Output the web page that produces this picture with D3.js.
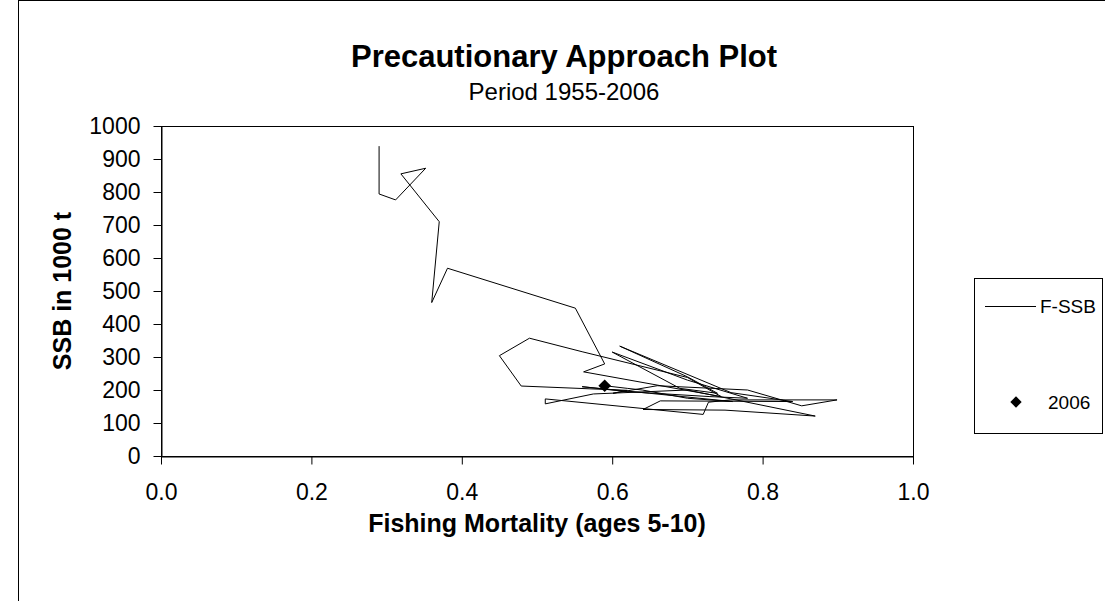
<!DOCTYPE html>
<html>
<head>
<meta charset="utf-8">
<script src="https://cdn.jsdelivr.net/npm/d3@7"></script>
<style>
  body { margin: 0; background: #fff; }
  svg { font-family: Arial, "Liberation Sans", sans-serif; }
</style>
</head>
<body>
<div id="chart"></div>
<script>
// data: fishing mortality (x) and SSB (y) by year
var years = d3.range(1955, 2007)
var fishingMortality = [
    0.290, 0.290, 0.312, 0.352, 0.319, 0.370, 0.360, 0.381, 0.551, 0.590,
    0.562, 0.745, 0.700, 0.560, 0.490, 0.450, 0.479, 0.620, 0.601, 0.660,
    0.780, 0.852, 0.899, 0.757, 0.728, 0.721, 0.511, 0.511, 0.575, 0.700,
    0.870, 0.750, 0.641, 0.664, 0.840, 0.758, 0.610, 0.700, 0.740, 0.690,
    0.600, 0.700, 0.780, 0.730, 0.620, 0.560, 0.650, 0.760, 0.700, 0.640,
    0.620, 0.590
]
var ssb = [
    939, 794, 776, 872, 855, 710, 465, 569, 448, 279,
    255, 180, 238, 316, 357, 304, 212, 199, 190, 213,
    200, 152, 170, 170, 163, 126, 173, 158, 188, 200,
    121, 139, 141, 167, 165, 192, 333, 240, 190, 205,
    315, 230, 175, 180, 195, 210, 190, 165, 175, 200,
    205, 213
]
var xTicks = [0, 0.2, 0.4, 0.6, 0.8, 1.0]
var yTicks = [0, 100, 200, 300, 400, 500, 600, 700, 800, 900, 1000]
var legendLabels = ["F-SSB", "2006"]

var points = years.map(function(d, i) {
    return { year: d, f: fishingMortality[i], ssb: ssb[i] }
})
var last = points[points.length - 1]

// plot area
var plot = { left: 161, top: 126, right: 913, bottom: 456 }
var font = "Arial, 'Liberation Sans', sans-serif"

var svg = d3.select("#chart").append("svg")
    .attr("width", 1105)
    .attr("height", 601)

// chart area border
svg.append("rect")
    .attr("x", 18.5).attr("y", 0.5)
    .attr("width", 1200).attr("height", 700)
    .attr("fill", "#fff").attr("stroke", "#000")

var x = d3.scaleLinear().domain([0, 1]).range([plot.left, plot.right])
var y = d3.scaleLinear().domain([0, 1000]).range([plot.bottom, plot.top])

// plot area box
svg.append("rect")
    .attr("x", plot.left + 0.5).attr("y", plot.top + 0.5)
    .attr("width", plot.right - plot.left).attr("height", plot.bottom - plot.top)
    .attr("fill", "none").attr("stroke", "#000")

// axes
svg.append("g")
    .attr("transform", "translate(0," + (plot.bottom + 0.5) + ")")
    .call(d3.axisBottom(x).tickValues(xTicks).tickSize(8).tickSizeOuter(0).tickPadding(19).tickFormat(d3.format(".1f")))
    .call(function(g) {
        g.select(".domain").attr("stroke", "#000")
        g.selectAll("text").attr("font-size", 23).attr("fill", "#000").attr("font-family", font)
    })

svg.append("g")
    .attr("transform", "translate(" + (plot.left + 0.5) + ",0)")
    .call(d3.axisLeft(y).tickValues(yTicks).tickSize(8).tickSizeOuter(0).tickPadding(13).tickFormat(d3.format("d")))
    .call(function(g) {
        g.select(".domain").attr("stroke", "#000")
        g.selectAll("text").attr("font-size", 23).attr("fill", "#000").attr("font-family", font)
    })

// titles
svg.append("text")
    .attr("x", 564).attr("y", 67)
    .attr("text-anchor", "middle")
    .attr("font-size", 31).attr("font-weight", "bold")
    .text("Precautionary Approach Plot")

svg.append("text")
    .attr("x", 564).attr("y", 100)
    .attr("text-anchor", "middle")
    .attr("font-size", 24)
    .text("Period 1955-2006")

svg.append("text")
    .attr("x", 537).attr("y", 532)
    .attr("text-anchor", "middle")
    .attr("font-size", 25).attr("font-weight", "bold")
    .text("Fishing Mortality (ages 5-10)")

svg.append("text")
    .attr("transform", "translate(71," + ((plot.top + plot.bottom) / 2) + ") rotate(-90)")
    .attr("text-anchor", "middle")
    .attr("font-size", 25).attr("font-weight", "bold")
    .text("SSB in 1000 t")

// F-SSB trajectory
var line = d3.line()
    .x(function(d) { return x(d.f) })
    .y(function(d) { return y(d.ssb) })

svg.append("path")
    .datum(points)
    .attr("d", line)
    .attr("fill", "none")
    .attr("stroke", "#000")
    .attr("stroke-width", 1)

// last year marker: square turned into a diamond
var diamond = d3.symbol().type(d3.symbolSquare).size(80)
svg.append("path")
    .attr("d", diamond())
    .attr("transform", "translate(" + x(last.f) + "," + y(last.ssb) + ") rotate(45)")
    .attr("fill", "#000")

// legend
var legend = svg.append("g").attr("transform", "translate(974,278)")
legend.append("rect")
    .attr("x", 0.5).attr("y", 0.5)
    .attr("width", 128).attr("height", 155)
    .attr("fill", "#fff").attr("stroke", "#000")

legend.append("line")
    .attr("x1", 11).attr("x2", 62)
    .attr("y1", 28.5).attr("y2", 28.5)
    .attr("stroke", "#000").attr("stroke-width", 1)

legend.append("path")
    .attr("d", d3.symbol().type(d3.symbolSquare).size(64)())
    .attr("transform", "translate(42,124) rotate(45)")
    .attr("fill", "#000")

legend.selectAll("text.lab")
    .data(legendLabels)
    .enter()
    .append("text")
    .attr("class", "lab")
    .attr("x", function(d, i) { return i == 0 ? 66 : 74 })
    .attr("y", function(d, i) { return i == 0 ? 35 : 131 })
    .attr("font-size", 19)
    .text(function(d) { return d })
</script>
</body>
</html>
